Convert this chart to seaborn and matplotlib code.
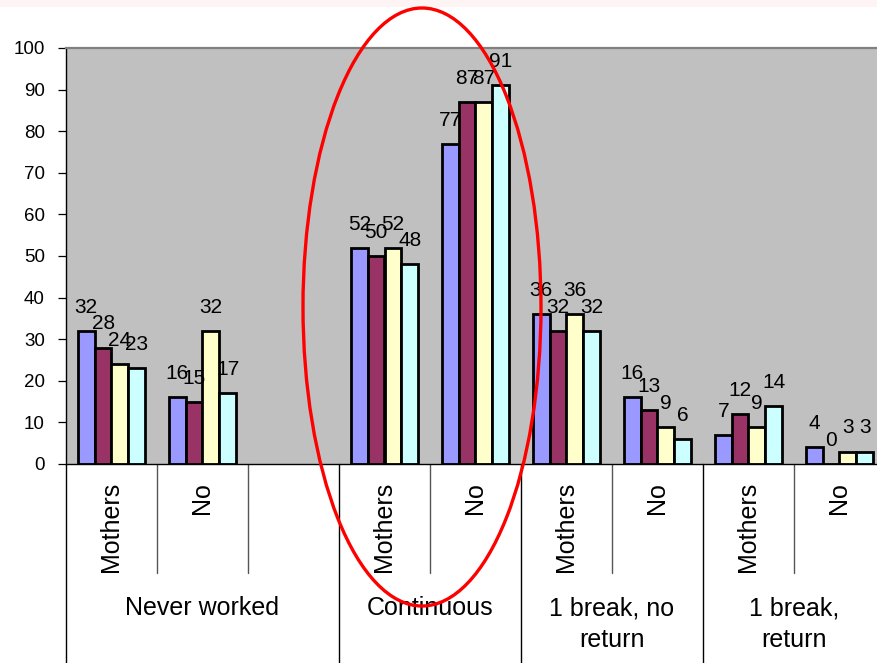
import matplotlib
matplotlib.use("Agg")
import matplotlib.pyplot as plt
import seaborn as sns
import pandas as pd
from matplotlib.patches import Ellipse, Rectangle

# ---- data -------------------------------------------------------------
groups = ["Never worked", "Continuous", "1 break, no\nreturn", "1 break,\nreturn"]
group_spans = [3, 2, 2, 2]
sub_labels = ["Mothers", "No", "", "Mothers", "No", "Mothers", "No", "Mothers", "No"]
slot_keys = ["nw_m", "nw_n", "nw_blank", "c_m", "c_n", "b1_m", "b1_n", "b1r_m", "b1r_n"]
filled_slots = ["nw_m", "nw_n", "c_m", "c_n", "b1_m", "b1_n", "b1r_m", "b1r_n"]

series_names = ["Series 1", "Series 2", "Series 3", "Series 4"]
series_1 = [32, 16, 52, 77, 36, 16, 7, 4]
series_2 = [28, 15, 50, 87, 32, 13, 12, 0]
series_3 = [24, 32, 52, 87, 36, 9, 9, 3]
series_4 = [23, 17, 48, 91, 32, 6, 14, 3]
series_colors = ["#9999FF", "#993366", "#FFFFCC", "#CCFFFF"]

yticks = [0, 10, 20, 30, 40, 50, 60, 70, 80, 90, 100]

rows = []
for name, vals in zip(series_names, [series_1, series_2, series_3, series_4]):
    for slot, v in zip(filled_slots, vals):
        rows.append({"slot": slot, "series": name, "value": v})
df = pd.DataFrame(rows)

# ---- figure -----------------------------------------------------------
sns.set_theme(style="white")
plt.rcParams["font.family"] = ["Liberation Sans", "DejaVu Sans"]

W, H = 878, 663
fig = plt.figure(figsize=(W / 100, H / 100), dpi=100)
fig.patch.set_facecolor("white")
fig.add_artist(Rectangle((0, 1 - 7 / H), 1, 7 / H, transform=fig.transFigure,
                         facecolor="#FFF4F4", edgecolor="none", zorder=0))

ax = fig.add_axes([66 / W, 1 - 464 / H, 819 / W, 416 / H])
ax.set_facecolor("#C0C0C0")

sns.barplot(data=df, x="slot", y="value", hue="series", order=slot_keys,
            hue_order=series_names, palette=series_colors, saturation=1,
            width=0.74, gap=0, edgecolor="black", linewidth=2.0,
            legend=False, ax=ax)

ax.set_xlim(-0.5, len(slot_keys) - 0.5)
ax.set_ylim(0, 100)
ax.set_yticks(yticks)
ax.set_yticklabels([str(t) for t in yticks])
ax.set_xticks([])
ax.set_xlabel("")
ax.set_ylabel("")
ax.tick_params(axis="y", left=True, direction="out", length=5.8, width=0.9,
               color="black", pad=9.5, labelsize=13.5, labelcolor="black")

for side in ["left", "bottom"]:
    ax.spines[side].set_color("black")
    ax.spines[side].set_linewidth(1.0)
ax.spines["top"].set_color("#808080")
ax.spines["top"].set_linewidth(1.6)
ax.spines["right"].set_visible(False)

# value labels above each bar
for container in ax.containers:
    for bar in container:
        h = bar.get_height()
        if pd.isna(h):
            continue
        ax.annotate(f"{h:g}", (bar.get_x() + bar.get_width() / 2, h),
                    xytext=(0, 13), textcoords="offset points",
                    ha="center", va="baseline", fontsize=15, color="black")

# two-level category axis
trans = ax.get_xaxis_transform()
for i, lab in enumerate(sub_labels):
    if lab:
        ax.text(i, -0.043, lab, rotation=90, ha="center", va="top",
                transform=trans, fontsize=18, color="black")

start = 0
outer_edges = [-0.5]
for g, span in zip(groups, group_spans):
    center = start + (span - 1) / 2
    ax.text(center, -0.318, g, ha="center", va="top", transform=trans,
            fontsize=18, linespacing=1.4, color="black")
    start += span
    outer_edges.append(start - 0.5)

for x in outer_edges:
    ax.plot([x, x], [0, -0.6], transform=trans, color="black", lw=1.0,
            clip_on=False)
for x in [i + 0.5 for i in range(len(slot_keys) - 1)]:
    if x not in outer_edges:
        ax.plot([x, x], [0, -0.262], transform=trans, color="#555555",
                lw=1.0, clip_on=False)

# highlight ring around the "Continuous" group
ring = Ellipse((422 / W, 1 - 307 / H), 238 / W, 598 / H,
               transform=fig.transFigure, fill=False, edgecolor="#FF0000",
               linewidth=2.4, zorder=10)
fig.add_artist(ring)

fig.savefig("out.png", dpi=100)
